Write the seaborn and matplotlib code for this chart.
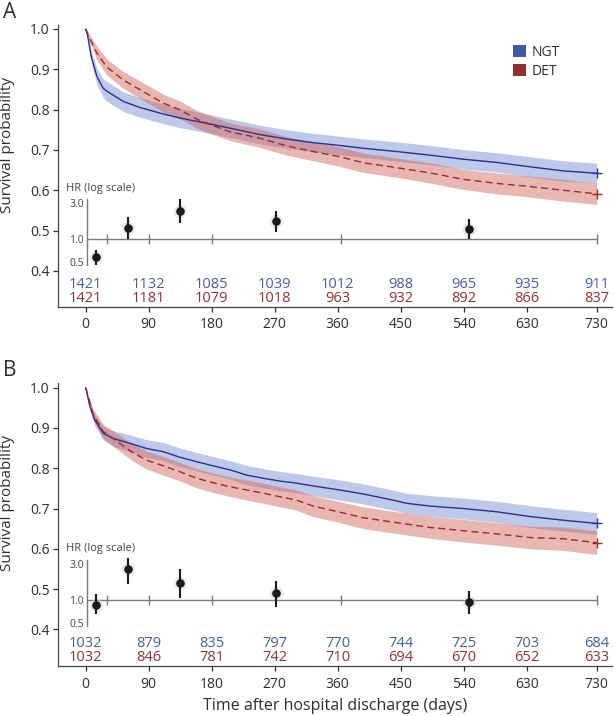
import numpy as np
import pandas as pd
import seaborn as sns
import matplotlib.pyplot as plt
from matplotlib.patches import Patch

# ---- data ----
# Panel A
a_ngt_days = [0, 2, 8, 16, 25, 30, 54, 78, 111, 135, 173, 206, 249, 287, 325, 363, 397, 444, 492, 539, 587, 635, 682, 730]
a_ngt_surv = [1.000, 0.990, 0.931, 0.882, 0.853, 0.846, 0.820, 0.805, 0.789, 0.779, 0.766, 0.754, 0.738, 0.727, 0.718, 0.711, 0.704, 0.696, 0.687, 0.677, 0.669, 0.658, 0.648, 0.642]
a_ngt_lo = [1.000, 0.983, 0.916, 0.862, 0.830, 0.821, 0.795, 0.781, 0.765, 0.755, 0.743, 0.731, 0.715, 0.704, 0.695, 0.688, 0.681, 0.672, 0.663, 0.653, 0.645, 0.633, 0.623, 0.617]
a_ngt_hi = [1.000, 0.997, 0.946, 0.902, 0.876, 0.870, 0.844, 0.829, 0.813, 0.803, 0.789, 0.777, 0.761, 0.750, 0.741, 0.734, 0.727, 0.720, 0.711, 0.701, 0.693, 0.683, 0.673, 0.667]

a_det_days = [0, 2, 16, 30, 54, 78, 111, 135, 159, 173, 206, 249, 287, 325, 363, 397, 444, 492, 539, 587, 635, 682, 730]
a_det_surv = [1.000, 0.990, 0.940, 0.906, 0.873, 0.849, 0.816, 0.799, 0.776, 0.766, 0.745, 0.729, 0.710, 0.696, 0.683, 0.668, 0.656, 0.643, 0.627, 0.617, 0.609, 0.600, 0.591]
a_det_lo = [1.000, 0.983, 0.923, 0.886, 0.852, 0.827, 0.794, 0.777, 0.754, 0.744, 0.723, 0.706, 0.687, 0.673, 0.659, 0.644, 0.632, 0.618, 0.602, 0.591, 0.583, 0.573, 0.565]
a_det_hi = [1.000, 0.997, 0.957, 0.926, 0.894, 0.871, 0.838, 0.821, 0.798, 0.788, 0.767, 0.752, 0.733, 0.719, 0.707, 0.692, 0.680, 0.668, 0.652, 0.643, 0.635, 0.627, 0.617]

a_hr = [0.58, 1.41, 2.37, 1.76, 1.38]
a_hr_lo = [0.46, 1.00, 1.63, 1.26, 1.00]
a_hr_hi = [0.73, 1.99, 3.42, 2.39, 1.84]

a_risk_ngt = [1421, 1132, 1085, 1039, 1012, 988, 965, 935, 911]
a_risk_det = [1421, 1181, 1079, 1018, 963, 932, 892, 866, 837]

# Panel B
b_ngt_days = [0, 6, 13, 25, 39, 63, 87, 111, 135, 159, 182, 206, 230, 254, 278, 301, 325, 363, 397, 444, 458, 492, 539, 587, 635, 682, 730]
b_ngt_surv = [1.000, 0.953, 0.920, 0.887, 0.874, 0.862, 0.849, 0.841, 0.827, 0.816, 0.806, 0.796, 0.783, 0.775, 0.768, 0.763, 0.756, 0.746, 0.736, 0.719, 0.713, 0.706, 0.700, 0.692, 0.680, 0.671, 0.663]
b_ngt_lo = [1.000, 0.942, 0.906, 0.870, 0.855, 0.841, 0.827, 0.818, 0.804, 0.793, 0.783, 0.773, 0.759, 0.751, 0.744, 0.739, 0.732, 0.721, 0.711, 0.694, 0.688, 0.680, 0.674, 0.666, 0.653, 0.644, 0.636]
b_ngt_hi = [1.000, 0.964, 0.934, 0.904, 0.893, 0.883, 0.871, 0.864, 0.850, 0.839, 0.829, 0.819, 0.807, 0.799, 0.792, 0.787, 0.780, 0.771, 0.761, 0.744, 0.738, 0.732, 0.726, 0.718, 0.707, 0.698, 0.690]

b_det_days = [0, 11, 25, 39, 54, 68, 87, 111, 135, 159, 182, 206, 230, 254, 278, 301, 325, 363, 397, 444, 492, 539, 587, 635, 682, 730]
b_det_surv = [1.000, 0.932, 0.891, 0.874, 0.855, 0.838, 0.820, 0.806, 0.791, 0.775, 0.764, 0.754, 0.746, 0.738, 0.729, 0.721, 0.706, 0.691, 0.677, 0.665, 0.653, 0.645, 0.637, 0.628, 0.625, 0.615]
b_det_lo = [1.000, 0.918, 0.874, 0.855, 0.835, 0.817, 0.798, 0.783, 0.768, 0.751, 0.740, 0.730, 0.721, 0.713, 0.704, 0.696, 0.680, 0.665, 0.650, 0.638, 0.626, 0.617, 0.609, 0.600, 0.596, 0.586]
b_det_hi = [1.000, 0.946, 0.908, 0.893, 0.875, 0.859, 0.842, 0.829, 0.814, 0.799, 0.788, 0.778, 0.771, 0.763, 0.754, 0.746, 0.732, 0.717, 0.704, 0.692, 0.680, 0.673, 0.665, 0.656, 0.654, 0.644]

b_hr = [0.87, 2.56, 1.67, 1.24, 0.94]
b_hr_lo = [0.66, 1.63, 1.06, 0.82, 0.66]
b_hr_hi = [1.20, 3.60, 2.56, 1.80, 1.33]

b_risk_ngt = [1032, 879, 835, 797, 770, 744, 725, 703, 684]
b_risk_det = [1032, 846, 781, 742, 710, 694, 670, 652, 633]

# shared
x_ticks = [0, 90, 180, 270, 360, 450, 540, 630, 730]
hr_days = [15, 60, 135, 272.5, 547.5]
hr_bounds = [30, 90, 180, 365, 730]

# ---- style ----
sns.set_theme(style="ticks")
plt.rcParams['font.family'] = ['Open Sans', 'DejaVu Sans']
TXT = '#2e2e2e'
NGT_LINE, NGT_FILL, NGT_TXT = '#2b2f8f', '#7088d2', '#4a5e9c'
DET_LINE, DET_FILL, DET_TXT = '#a1282b', '#d06052', '#8b3434'
GREY = '#7a7a7a'

fig = plt.figure(figsize=(6.14, 7.16), dpi=100)


def panel(rect, ylim, letter, letter_y, ngt, det, hr, risk, hr_rect, hr_label_y):
    ax = fig.add_axes(rect)
    for days, surv, lo, hi, lc, fc, ls in [ngt + (NGT_LINE, NGT_FILL, '-'),
                                           det + (DET_LINE, DET_FILL, (0, (5, 3)))]:
        ax.fill_between(days, lo, hi, color=fc, alpha=0.45, linewidth=0)
        df = pd.DataFrame({'day': days, 'surv': surv})
        sns.lineplot(data=df, x='day', y='surv', ax=ax, color=lc, linewidth=1.0,
                     linestyle=ls, estimator=None)
        ax.plot([days[-1]], [surv[-1]], marker='+', ms=7, mew=1.0, color=lc)

    ax.set_xlim(-39.6, 751.9)
    ax.set_ylim(*ylim)
    ax.set_yticks([0.4, 0.5, 0.6, 0.7, 0.8, 0.9, 1.0])
    ax.set_yticklabels(['0.4', '0.5', '0.6', '0.7', '0.8', '0.9', '1.0'])
    ax.set_xticks(x_ticks)
    ax.set_xticklabels([str(t) for t in x_ticks])
    ax.tick_params(axis='both', labelsize=10, colors=TXT, length=3.6, width=0.9)
    ax.tick_params(axis='x', pad=4)
    ax.tick_params(axis='y', pad=2.5)
    for s in ['top', 'right']:
        ax.spines[s].set_visible(False)
    for s in ['left', 'bottom']:
        ax.spines[s].set_color('#444444')
        ax.spines[s].set_linewidth(0.9)
    ax.set_xlabel('')
    ax.set_ylabel('Survival probability', fontsize=11, color=TXT)
    ax.yaxis.set_label_coords(-0.078, 0.575)

    # numbers at risk
    for t, n1, n2 in zip(x_ticks, risk[0], risk[1]):
        ax.text(t, 0.366, str(n1), color=NGT_TXT, fontsize=10.5, ha='center', va='center')
        ax.text(t, 0.331, str(n2), color=DET_TXT, fontsize=10.5, ha='center', va='center')

    fig.text(3 / 614, letter_y, letter, fontsize=15, color=TXT, va='center', ha='left')

    # hazard ratio strip (log scale)
    axh = fig.add_axes(hr_rect)
    axh.patch.set_visible(False)
    axh.set_xlim(-39.6, 751.9)
    axh.set_yscale('log')
    axh.set_ylim(0.392, 3.86)
    for s in ['top', 'right', 'bottom']:
        axh.spines[s].set_visible(False)
    axh.spines['left'].set_position(('data', 1.4))
    axh.spines['left'].set_bounds(0.45, 3.45)
    axh.spines['left'].set_color(GREY)
    axh.spines['left'].set_linewidth(1.0)
    axh.set_xticks([])
    axh.minorticks_off()
    axh.set_yticks([0.5, 1.0, 3.0])
    axh.set_yticklabels(['0.5', '1.0', '3.0'])
    axh.tick_params(axis='y', length=0, pad=2, labelsize=7.5, colors='#444444')
    axh.hlines(1.0, 1.4, hr_bounds[-1], color=GREY, linewidth=1.0)
    axh.vlines(hr_bounds, 0.86, 1.165, color=GREY, linewidth=1.0)
    hr_vals, hr_lo, hr_hi = hr
    axh.vlines(hr_days, hr_lo, hr_hi, color='#1a1a1a', linewidth=1.5, zorder=3)
    sns.scatterplot(x=hr_days, y=hr_vals, ax=axh, color='#c8c8c8', s=100, alpha=0.35,
                    linewidth=0, zorder=2)
    sns.scatterplot(x=hr_days, y=hr_vals, ax=axh, color='#1a1a1a', s=38,
                    linewidth=0, zorder=4)
    fig.text(66 / 614, hr_label_y, 'HR (log scale)', fontsize=8, color='#444444',
             va='center', ha='left')
    return ax


W = (612 - 58) / 614
L = 58 / 614
axA = panel([L, 1 - 306.7 / 716, W, (306.7 - 25) / 716], (0.311, 1.0099), 'A', 1 - 12 / 716,
            (a_ngt_days, a_ngt_surv, a_ngt_lo, a_ngt_hi),
            (a_det_days, a_det_surv, a_det_lo, a_det_hi),
            (a_hr, a_hr_lo, a_hr_hi), (a_risk_ngt, a_risk_det),
            [L, 1 - 270 / 716, W, 75 / 716], 1 - 188.3 / 716)

axB = panel([L, 1 - 666 / 716, W, (666 - 382.7) / 716], (0.309, 1.0124), 'B', 1 - 370 / 716,
            (b_ngt_days, b_ngt_surv, b_ngt_lo, b_ngt_hi),
            (b_det_days, b_det_surv, b_det_lo, b_det_hi),
            (b_hr, b_hr_lo, b_hr_hi), (b_risk_ngt, b_risk_det),
            [L, 1 - 631 / 716, W, 75 / 716], 1 - 548.3 / 716)

axB.set_xlabel('Time after hospital discharge (days)', fontsize=11.5, color=TXT, labelpad=5)

handles = [Patch(facecolor='#415a9b', edgecolor='none'), Patch(facecolor='#8c3232', edgecolor='none')]
axA.legend(handles, ['NGT', 'DET'], loc='upper left', bbox_to_anchor=(500 / 614, 1 - 32 / 716),
           bbox_transform=fig.transFigure, frameon=False, fontsize=10, handlelength=0.95,
           handleheight=0.95, handletextpad=0.45, labelspacing=0.3, labelcolor=TXT)

fig.savefig('out.png', dpi=100)
